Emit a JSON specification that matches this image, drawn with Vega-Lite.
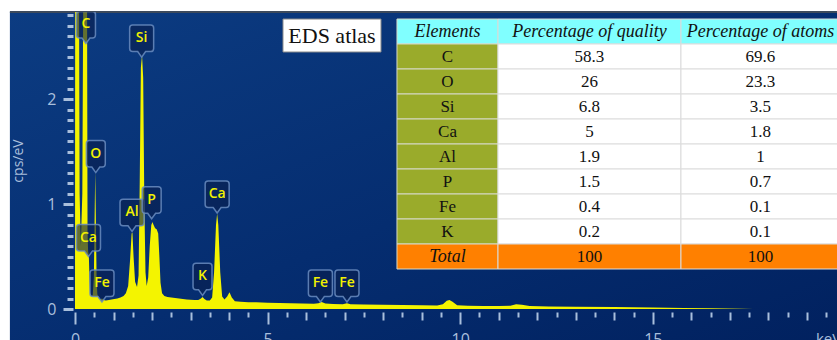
{
  "$schema": "https://vega.github.io/schema/vega-lite/v6.json",
  "width": 762,
  "height": 297,
  "autosize": {"type": "none"},
  "padding": {"left": 75, "top": 12, "right": 0, "bottom": 31},
  "background": "#ffffff",
  "config": {
    "view": {"stroke": null},
    "axis": {
      "domain": false,
      "grid": false,
      "zindex": 1,
      "tickColor": "#a9bfdc",
      "tickWidth": 2,
      "labelColor": "#a9bfdc",
      "titleColor": "#a9bfdc",
      "labelFont": "Open Sans",
      "labelFontSize": 16,
      "titleFont": "Open Sans",
      "titleFontSize": 14,
      "titleFontWeight": "normal",
      "labelFlush": false,
      "labelOverlap": false
    },
    "axisY": {"tickWidth": 3}
  },
  "datasets": {
    "panel": [{"panel": "spectrum"}],
    "caption": [{"label": "EDS atlas"}],
    "spectrum": [
      {"energy": 0, "counts": 0}, {"energy": 0.005, "counts": 3.5}, {"energy": 0.1, "counts": 3.5},
      {"energy": 0.12, "counts": 1.1}, {"energy": 0.15, "counts": 0.6}, {"energy": 0.19, "counts": 1.1},
      {"energy": 0.22, "counts": 3.5}, {"energy": 0.31, "counts": 3.5}, {"energy": 0.325, "counts": 0.75},
      {"energy": 0.34, "counts": 0.55}, {"energy": 0.36, "counts": 0.5}, {"energy": 0.375, "counts": 0.3},
      {"energy": 0.39, "counts": 0.16}, {"energy": 0.42, "counts": 0.12}, {"energy": 0.46, "counts": 0.13},
      {"energy": 0.49, "counts": 0.3}, {"energy": 0.51, "counts": 0.9}, {"energy": 0.525, "counts": 1.31},
      {"energy": 0.54, "counts": 0.9}, {"energy": 0.56, "counts": 0.3}, {"energy": 0.58, "counts": 0.14},
      {"energy": 0.62, "counts": 0.1}, {"energy": 0.66, "counts": 0.09}, {"energy": 0.7, "counts": 0.1},
      {"energy": 0.74, "counts": 0.085}, {"energy": 0.8, "counts": 0.08}, {"energy": 0.88, "counts": 0.085},
      {"energy": 0.95, "counts": 0.09}, {"energy": 1.02, "counts": 0.095}, {"energy": 1.1, "counts": 0.1},
      {"energy": 1.18, "counts": 0.11}, {"energy": 1.26, "counts": 0.125}, {"energy": 1.32, "counts": 0.15},
      {"energy": 1.38, "counts": 0.22}, {"energy": 1.43, "counts": 0.47}, {"energy": 1.47, "counts": 0.72},
      {"energy": 1.49, "counts": 0.73}, {"energy": 1.52, "counts": 0.5}, {"energy": 1.56, "counts": 0.26},
      {"energy": 1.61, "counts": 0.21}, {"energy": 1.65, "counts": 0.32}, {"energy": 1.68, "counts": 1.2},
      {"energy": 1.71, "counts": 2.3}, {"energy": 1.74, "counts": 2.42}, {"energy": 1.77, "counts": 2.2},
      {"energy": 1.8, "counts": 1.0}, {"energy": 1.83, "counts": 0.35}, {"energy": 1.86, "counts": 0.22},
      {"energy": 1.9, "counts": 0.3}, {"energy": 1.94, "counts": 0.6}, {"energy": 1.98, "counts": 0.8},
      {"energy": 2.01, "counts": 0.83}, {"energy": 2.04, "counts": 0.8}, {"energy": 2.08, "counts": 0.77},
      {"energy": 2.12, "counts": 0.76}, {"energy": 2.16, "counts": 0.72}, {"energy": 2.19, "counts": 0.5},
      {"energy": 2.22, "counts": 0.25}, {"energy": 2.26, "counts": 0.15}, {"energy": 2.32, "counts": 0.125},
      {"energy": 2.4, "counts": 0.115}, {"energy": 2.5, "counts": 0.11}, {"energy": 2.6, "counts": 0.105},
      {"energy": 2.7, "counts": 0.1}, {"energy": 2.8, "counts": 0.095}, {"energy": 2.9, "counts": 0.09},
      {"energy": 3.0, "counts": 0.088}, {"energy": 3.1, "counts": 0.085}, {"energy": 3.2, "counts": 0.085},
      {"energy": 3.27, "counts": 0.1}, {"energy": 3.31, "counts": 0.115}, {"energy": 3.36, "counts": 0.095},
      {"energy": 3.42, "counts": 0.08}, {"energy": 3.5, "counts": 0.08}, {"energy": 3.56, "counts": 0.11},
      {"energy": 3.61, "counts": 0.35}, {"energy": 3.66, "counts": 0.8}, {"energy": 3.69, "counts": 0.91},
      {"energy": 3.72, "counts": 0.8}, {"energy": 3.77, "counts": 0.35}, {"energy": 3.82, "counts": 0.12},
      {"energy": 3.88, "counts": 0.09}, {"energy": 3.95, "counts": 0.12}, {"energy": 4.01, "counts": 0.16},
      {"energy": 4.07, "counts": 0.11}, {"energy": 4.15, "counts": 0.075}, {"energy": 4.3, "counts": 0.068},
      {"energy": 4.5, "counts": 0.065}, {"energy": 4.7, "counts": 0.064}, {"energy": 5.0, "counts": 0.06},
      {"energy": 5.3, "counts": 0.058}, {"energy": 5.6, "counts": 0.055}, {"energy": 5.9, "counts": 0.052},
      {"energy": 6.2, "counts": 0.05}, {"energy": 6.32, "counts": 0.055}, {"energy": 6.4, "counts": 0.066},
      {"energy": 6.5, "counts": 0.052}, {"energy": 6.7, "counts": 0.048}, {"energy": 6.95, "counts": 0.046},
      {"energy": 7.06, "counts": 0.054}, {"energy": 7.15, "counts": 0.046}, {"energy": 7.5, "counts": 0.043},
      {"energy": 8.0, "counts": 0.04}, {"energy": 8.5, "counts": 0.037}, {"energy": 9.0, "counts": 0.035},
      {"energy": 9.4, "counts": 0.033}, {"energy": 9.55, "counts": 0.045}, {"energy": 9.65, "counts": 0.078},
      {"energy": 9.72, "counts": 0.086}, {"energy": 9.8, "counts": 0.07}, {"energy": 9.92, "counts": 0.036},
      {"energy": 10.2, "counts": 0.03}, {"energy": 10.6, "counts": 0.029}, {"energy": 11.0, "counts": 0.028},
      {"energy": 11.3, "counts": 0.031}, {"energy": 11.45, "counts": 0.045}, {"energy": 11.6, "counts": 0.04},
      {"energy": 11.8, "counts": 0.028}, {"energy": 12.3, "counts": 0.025}, {"energy": 13.0, "counts": 0.022},
      {"energy": 14.0, "counts": 0.019}, {"energy": 15.0, "counts": 0.015}, {"energy": 15.8, "counts": 0.01},
      {"energy": 16.5, "counts": 0.006}, {"energy": 17.3, "counts": 0.003}, {"energy": 17.6, "counts": 0},
      {"energy": 19.78, "counts": 0}
    ],
    "peaks": [
      {"element": "C", "energy": 0.285, "intensity": 2.53},
      {"element": "Si", "energy": 1.73, "intensity": 2.4},
      {"element": "O", "energy": 0.54, "intensity": 1.3},
      {"element": "Ca", "energy": 0.35, "intensity": 0.5},
      {"element": "Fe", "energy": 0.7, "intensity": 0.067},
      {"element": "Al", "energy": 1.48, "intensity": 0.74},
      {"element": "P", "energy": 1.99, "intensity": 0.86},
      {"element": "K", "energy": 3.31, "intensity": 0.13},
      {"element": "Ca", "energy": 3.69, "intensity": 0.915},
      {"element": "Fe", "energy": 6.37, "intensity": 0.067},
      {"element": "Fe", "energy": 7.06, "intensity": 0.067}
    ],
    "composition": [
      {"Elements": "Elements", "quality": "Percentage of quality", "atoms": "Percentage of atoms"},
      {"Elements": "C", "quality": 58.3, "atoms": 69.6},
      {"Elements": "O", "quality": 26, "atoms": 23.3},
      {"Elements": "Si", "quality": 6.8, "atoms": 3.5},
      {"Elements": "Ca", "quality": 5, "atoms": 1.8},
      {"Elements": "Al", "quality": 1.9, "atoms": 1},
      {"Elements": "P", "quality": 1.5, "atoms": 0.7},
      {"Elements": "Fe", "quality": 0.4, "atoms": 0.1},
      {"Elements": "K", "quality": 0.2, "atoms": 0.1},
      {"Elements": "Total", "quality": 100, "atoms": 100}
    ]
  },
  "layer": [
    {
      "resolve": {"axis": {"x": "independent", "y": "independent"}},
      "layer": [
        {
          "data": {"name": "panel"},
          "mark": {
            "type": "rect",
            "zindex": 0,
            "color": {
              "gradient": "linear", "x1": 0, "y1": 0, "x2": 1, "y2": 1,
              "stops": [
                {"offset": 0, "color": "#0c3c82"},
                {"offset": 0.55, "color": "#052d70"},
                {"offset": 1, "color": "#01215f"}
              ]
            }
          },
          "encoding": {
            "x": {"datum": -1.69, "axis": null},
            "x2": {"datum": 19.9},
            "y": {"datum": -0.3, "axis": null},
            "y2": {"datum": 2.83}
          }
        },
        {
          "data": {"name": "panel"},
          "mark": {"type": "rule", "color": "#3d4a5c", "strokeWidth": 2},
          "encoding": {
            "x": {"datum": -1.69, "axis": null},
            "x2": {"datum": 19.9},
            "y": {"datum": 2.83, "axis": null}
          }
        },
        {
          "data": {"name": "spectrum"},
          "mark": {"type": "area", "color": "#f4f400", "clip": true, "interpolate": "linear"},
          "encoding": {
            "x": {
              "field": "energy", "type": "quantitative",
              "scale": {"domain": [0, 19.78], "nice": false, "zero": false},
              "axis": {
                "orient": "bottom", "offset": 3, "values": [0, 5, 10, 15], "zindex": 2,
                "tickSize": 12, "labelPadding": 7,
                "title": "keV", "titleX": 753, "titleY": 19,
                "titleAlign": "center", "titleBaseline": "top", "titleFontSize": 15
              }
            },
            "y": {
              "field": "counts", "type": "quantitative",
              "scale": {"domain": [0, 2.83], "nice": false},
              "axis": {
                "orient": "left", "offset": 2, "values": [0, 1, 2], "zindex": 2,
                "tickSize": 10, "labelPadding": 7,
                "title": "cps/eV", "titleX": -55, "titleBaseline": "middle"
              }
            }
          }
        },
        {
          "data": {"name": "peaks"},
          "mark": {
            "type": "point", "filled": true, "size": 576, "opacity": 1, "clip": true,
            "fill": "#0a1e4e", "fillOpacity": 0.62,
            "stroke": "#6a8cc0", "strokeOpacity": 0.85, "strokeWidth": 1.5
          },
          "encoding": {
            "x": {
              "field": "energy", "type": "quantitative",
              "axis": {
                "orient": "bottom", "offset": 3, "zindex": 2,
                "values": [1, 2, 3, 4, 6, 7, 8, 9, 11, 12, 13, 14, 16, 17, 18, 19],
                "tickSize": 8, "labels": false, "title": null
              }
            },
            "y": {
              "field": "intensity", "type": "quantitative",
              "axis": {
                "orient": "left", "offset": 2, "zindex": 2,
                "values": [0.1, 0.2, 0.3, 0.4, 0.5, 0.6, 0.7, 0.8, 0.9, 1.1, 1.2, 1.3, 1.4, 1.5, 1.6, 1.7, 1.8, 1.9, 2.1, 2.2, 2.3, 2.4, 2.5, 2.6, 2.7, 2.8],
                "tickSize": 6, "labels": false, "title": null
              }
            },
            "shape": {
              "condition": {
                "test": "length(datum.element) > 1",
                "value": "M0,0L-0.33,-0.46L-0.75,-0.46Q-1,-0.46,-1,-0.71L-1,-2.42Q-1,-2.67,-0.75,-2.67L0.75,-2.67Q1,-2.67,1,-2.42L1,-0.71Q1,-0.46,0.75,-0.46L0.33,-0.46Z"
              },
              "value": "M0,0L-0.33,-0.46L-0.54,-0.46Q-0.79,-0.46,-0.79,-0.71L-0.79,-2.42Q-0.79,-2.67,-0.54,-2.67L0.54,-2.67Q0.79,-2.67,0.79,-2.42L0.79,-0.71Q0.79,-0.46,0.54,-0.46L0.33,-0.46Z"
            }
          }
        },
        {
          "data": {"name": "peaks"},
          "mark": {
            "type": "text", "dy": -19, "baseline": "middle", "align": "center", "clip": true,
            "font": "Open Sans", "fontSize": 14, "fontWeight": 600, "color": "#f2f200"
          },
          "encoding": {
            "x": {
              "field": "energy", "type": "quantitative",
              "axis": {
                "orient": "bottom", "offset": 3, "zindex": 2,
                "values": [0.5, 1.5, 2.5, 3.5, 4.5, 5.5, 6.5, 7.5, 8.5, 9.5, 10.5, 11.5, 12.5, 13.5, 14.5, 15.5, 16.5, 17.5, 18.5, 19.5],
                "tickSize": 5, "labels": false, "title": null
              }
            },
            "y": {"field": "intensity", "type": "quantitative", "axis": null},
            "text": {"field": "element", "type": "nominal"}
          }
        },
        {
          "data": {"name": "caption"},
          "mark": {"type": "rect", "fill": "#ffffff", "stroke": "#8c8c8c", "strokeWidth": 1},
          "encoding": {
            "x": {"datum": 5.399, "axis": null},
            "x2": {"datum": 7.943},
            "y": {"datum": 2.763, "axis": null},
            "y2": {"datum": 2.449}
          }
        },
        {
          "data": {"name": "caption"},
          "mark": {
            "type": "text", "font": "Liberation Serif", "fontSize": 22,
            "color": "#111111", "baseline": "middle", "align": "center"
          },
          "encoding": {
            "x": {"datum": 6.671, "axis": null},
            "y": {"datum": 2.606, "axis": null},
            "text": {"field": "label", "type": "nominal"}
          }
        }
      ]
    },
    {
      "data": {"name": "composition"},
      "encoding": {
        "y": {
          "field": "Elements", "type": "nominal", "axis": null,
          "scale": {
            "type": "band",
            "domain": ["Elements", "C", "O", "Si", "Ca", "Al", "P", "Fe", "K", "Total"],
            "range": [7, 257], "paddingInner": 0, "paddingOuter": 0
          }
        }
      },
      "layer": [
        {
          "mark": {"type": "rect", "stroke": "#d6d9c8", "strokeWidth": 1},
          "encoding": {
            "x": {"datum": 8.358, "axis": null},
            "x2": {"datum": 10.98},
            "fill": {
              "condition": [
                {"test": "datum.Elements === 'Elements'", "value": "#80ffff"},
                {"test": "datum.Elements === 'Total'", "value": "#ff8000"}
              ],
              "value": "#9aab2b"
            }
          }
        },
        {
          "mark": {"type": "rect", "stroke": "#dcdcdc", "strokeWidth": 1},
          "encoding": {
            "x": {"datum": 10.98, "axis": null},
            "x2": {"datum": 15.73},
            "fill": {
              "condition": [
                {"test": "datum.Elements === 'Elements'", "value": "#80ffff"},
                {"test": "datum.Elements === 'Total'", "value": "#ff8000"}
              ],
              "value": "#ffffff"
            }
          }
        },
        {
          "mark": {"type": "rect", "stroke": "#dcdcdc", "strokeWidth": 1},
          "encoding": {
            "x": {"datum": 15.73, "axis": null},
            "x2": {"datum": 19.9},
            "fill": {
              "condition": [
                {"test": "datum.Elements === 'Elements'", "value": "#80ffff"},
                {"test": "datum.Elements === 'Total'", "value": "#ff8000"}
              ],
              "value": "#ffffff"
            }
          }
        },
        {
          "transform": [{"filter": "datum.Elements !== 'Elements' && datum.Elements !== 'Total'"}],
          "mark": {"type": "text", "font": "Liberation Serif", "fontSize": 17, "color": "#111111", "baseline": "middle"},
          "encoding": {
            "x": {"datum": 9.669, "axis": null},
            "text": {"field": "Elements", "type": "nominal"}
          }
        },
        {
          "transform": [{"filter": "datum.Elements === 'Elements' || datum.Elements === 'Total'"}],
          "mark": {"type": "text", "font": "Liberation Serif", "fontSize": 18, "fontStyle": "italic", "color": "#111111", "baseline": "middle"},
          "encoding": {
            "x": {"datum": 9.669, "axis": null},
            "text": {"field": "Elements", "type": "nominal"}
          }
        },
        {
          "transform": [{"filter": "datum.Elements !== 'Elements'"}],
          "mark": {"type": "text", "font": "Liberation Serif", "fontSize": 17, "color": "#111111", "baseline": "middle"},
          "encoding": {
            "x": {"datum": 13.355, "axis": null},
            "text": {"field": "quality", "type": "nominal"}
          }
        },
        {
          "transform": [{"filter": "datum.Elements === 'Elements'"}],
          "mark": {"type": "text", "font": "Liberation Serif", "fontSize": 18, "fontStyle": "italic", "color": "#111111", "baseline": "middle"},
          "encoding": {
            "x": {"datum": 13.355, "axis": null},
            "text": {"field": "quality", "type": "nominal"}
          }
        },
        {
          "transform": [{"filter": "datum.Elements !== 'Elements'"}],
          "mark": {"type": "text", "font": "Liberation Serif", "fontSize": 17, "color": "#111111", "baseline": "middle"},
          "encoding": {
            "x": {"datum": 17.794, "axis": null},
            "text": {"field": "atoms", "type": "nominal"}
          }
        },
        {
          "transform": [{"filter": "datum.Elements === 'Elements'"}],
          "mark": {"type": "text", "font": "Liberation Serif", "fontSize": 18, "fontStyle": "italic", "color": "#111111", "baseline": "middle"},
          "encoding": {
            "x": {"datum": 17.794, "axis": null},
            "text": {"field": "atoms", "type": "nominal"}
          }
        }
      ]
    }
  ],
  "resolve": {"scale": {"y": "independent"}}
}
